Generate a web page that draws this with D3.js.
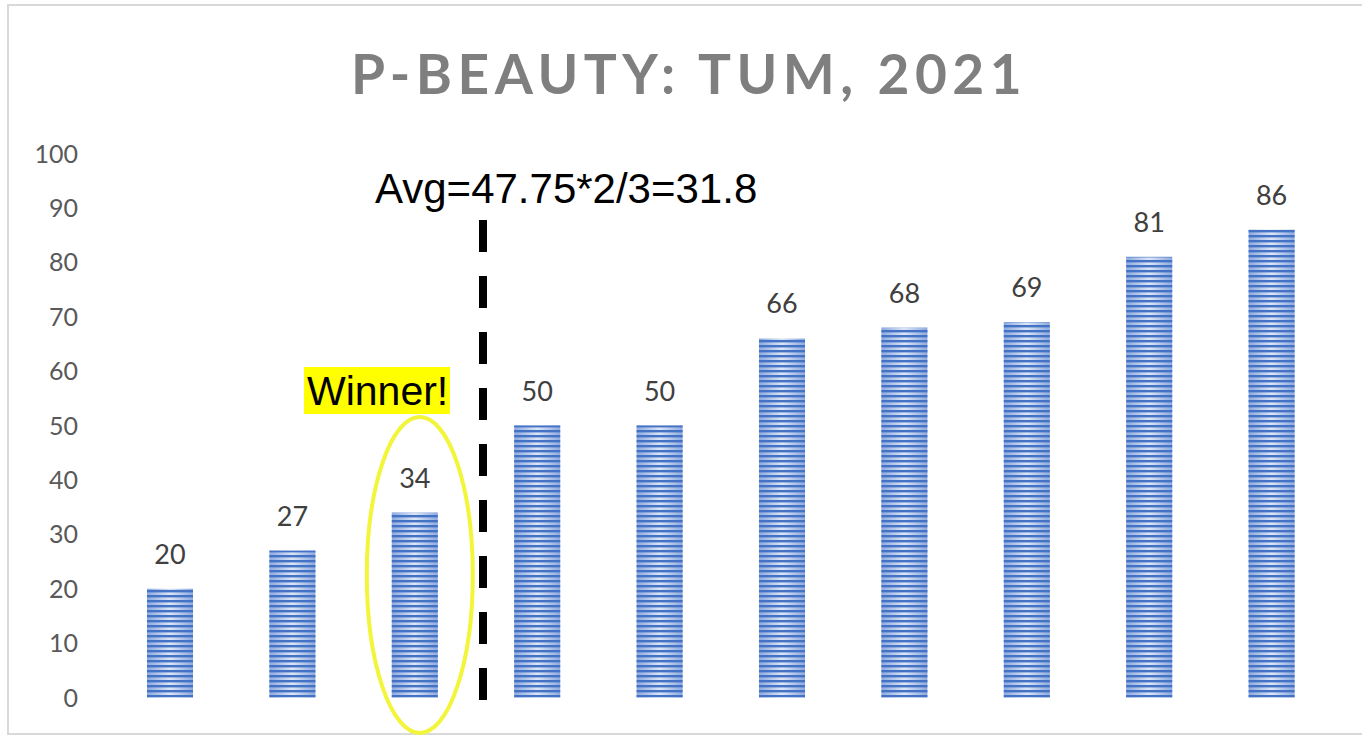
<!DOCTYPE html>
<html>
<head>
<meta charset="utf-8">
<script src="https://cdn.jsdelivr.net/npm/d3@7"></script>
<style>
  body { margin: 0; background: #fff; }
  svg { display: block; }
</style>
</head>
<body>
<div id="chart"></div>
<script>
const categories = ["1", "2", "3", "4", "5", "6", "7", "8", "9", "10"];
const values = [20, 27, 34, 50, 50, 66, 68, 69, 81, 86];
const yTicks = [0, 10, 20, 30, 40, 50, 60, 70, 80, 90, 100];
const titleText = "P-BEAUTY: TUM, 2021";
const avgText = "Avg=47.75*2/3=31.8";
const winnerText = "Winner!";
const winnerIndex = 2;

const W = 1362, H = 736;

const x = d3.scaleBand()
    .domain(categories)
    .range([108.8, 1332.8])
    .paddingInner(0.624)
    .paddingOuter(0.312);

const y = d3.scaleLinear()
    .domain([0, 100])
    .range([697.5, 153.5]);

const svg = d3.select("#chart")
    .append("svg")
    .attr("width", W)
    .attr("height", H);

// chart frame
svg.append("rect")
    .attr("x", 8)
    .attr("y", 5)
    .attr("width", W)
    .attr("height", 729)
    .attr("fill", "#fff")
    .attr("stroke", "#d9d9d9")
    .attr("stroke-width", 2);

const defs = svg.append("defs");

const grad = defs.append("linearGradient")
    .attr("id", "barGrad")
    .attr("x1", 0).attr("x2", 1).attr("y1", 0).attr("y2", 0);
grad.append("stop").attr("offset", "0%").attr("stop-color", "#8eaadf");
grad.append("stop").attr("offset", "50%").attr("stop-color", "#dbe5f6");
grad.append("stop").attr("offset", "100%").attr("stop-color", "#8eaadf");

const pat = defs.append("pattern")
    .attr("id", "stripes")
    .attr("patternUnits", "userSpaceOnUse")
    .attr("width", 10)
    .attr("height", 5);
pat.append("rect")
    .attr("x", 0).attr("y", 0)
    .attr("width", 10).attr("height", 2.4)
    .attr("fill", "#4472c4");

// title
svg.append("text")
    .attr("x", 689)
    .attr("y", 94)
    .attr("text-anchor", "middle")
    .attr("font-family", "Lato, 'Open Sans', sans-serif")
    .attr("font-weight", "bold")
    .attr("font-size", 55)
    .attr("letter-spacing", "5.5px")
    .attr("fill", "#7f7f7f")
    .text(titleText);

// y tick labels
svg.append("g")
    .selectAll("text")
    .data(yTicks)
    .join("text")
    .attr("x", 78)
    .attr("y", d => y(d))
    .attr("dy", "0.36em")
    .attr("text-anchor", "end")
    .attr("font-family", "Lato, 'Open Sans', sans-serif")
    .attr("font-size", 25)
    .attr("fill", "#595959")
    .text(d => d);

// bars
const bars = svg.append("g");
bars.selectAll("rect.base")
    .data(values)
    .join("rect")
    .attr("class", "base")
    .attr("x", (d, i) => x(categories[i]))
    .attr("y", d => y(d))
    .attr("width", x.bandwidth())
    .attr("height", d => y(0) - y(d))
    .attr("fill", "url(#barGrad)");
bars.selectAll("rect.stripe")
    .data(values)
    .join("rect")
    .attr("class", "stripe")
    .attr("x", (d, i) => x(categories[i]))
    .attr("y", d => y(d))
    .attr("width", x.bandwidth())
    .attr("height", d => y(0) - y(d))
    .attr("fill", "url(#stripes)");

// value labels
svg.append("g")
    .selectAll("text")
    .data(values)
    .join("text")
    .attr("x", (d, i) => x(categories[i]) + x.bandwidth() / 2)
    .attr("y", d => y(d) - 25)
    .attr("text-anchor", "middle")
    .attr("font-family", "Lato, 'Open Sans', sans-serif")
    .attr("font-size", 27)
    .attr("fill", "#404040")
    .text(d => d);

// dashed average divider, just right of the gap after the winner's bar
const gap = x.step() - x.bandwidth();
const lineX = x(categories[winnerIndex]) + x.bandwidth() + gap / 2 + 7;
svg.append("line")
    .attr("x1", lineX).attr("x2", lineX)
    .attr("y1", 220).attr("y2", y(0) + 2.5)
    .attr("stroke", "#000")
    .attr("stroke-width", 8)
    .attr("stroke-dasharray", "32,24");

svg.append("text")
    .attr("x", 375)
    .attr("y", 203)
    .attr("font-family", "'Liberation Sans', Arial, sans-serif")
    .attr("font-size", 42)
    .attr("fill", "#000")
    .text(avgText);

// winner highlight
const wx = x(categories[winnerIndex]) + x.bandwidth() / 2;
svg.append("ellipse")
    .attr("cx", wx + 5)
    .attr("cy", 575)
    .attr("rx", 53)
    .attr("ry", 158)
    .attr("fill", "none")
    .attr("stroke", "#f2f53a")
    .attr("stroke-width", 4);

svg.append("rect")
    .attr("x", 304)
    .attr("y", 367)
    .attr("width", 146)
    .attr("height", 47)
    .attr("fill", "#ffff00");

svg.append("text")
    .attr("x", 307)
    .attr("y", 405)
    .attr("font-family", "'Liberation Sans', Arial, sans-serif")
    .attr("font-size", 41)
    .attr("fill", "#000")
    .text(winnerText);
</script>
</body>
</html>
